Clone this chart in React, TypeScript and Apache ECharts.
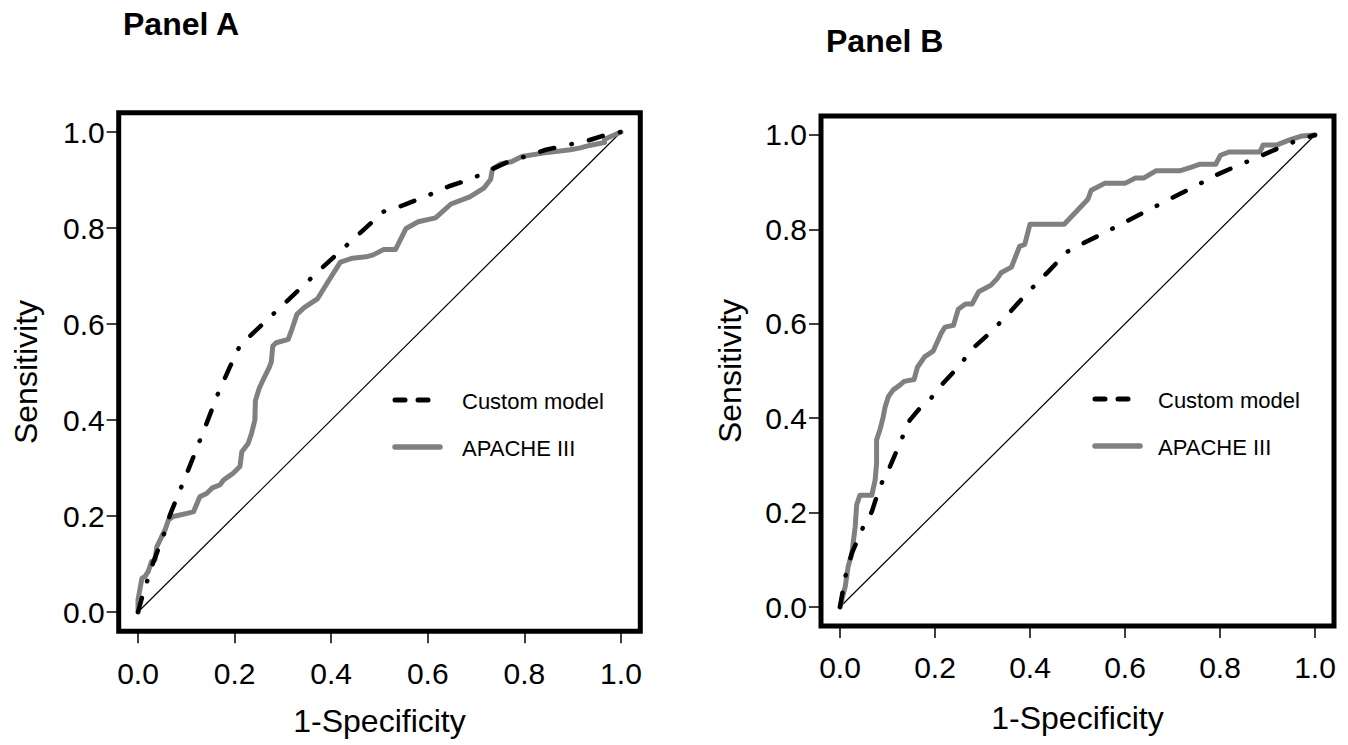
import React, { useEffect, useRef } from "react";
import * as echarts from "echarts";

// ---- Data ----
const TICKS = [0, 0.2, 0.4, 0.6, 0.8, 1.0];

const customA_x = [0, 0.011, 0.032, 0.052, 0.066, 0.104, 0.142, 0.166, 0.19, 0.211, 0.38, 0.508, 0.551, 0.601, 0.644, 0.687, 0.73, 0.766, 0.802, 0.845, 0.88, 0.931, 0.966, 1];
const customA_y = [0, 0.04, 0.105, 0.157, 0.202, 0.296, 0.393, 0.456, 0.51, 0.555, 0.716, 0.834, 0.848, 0.868, 0.887, 0.901, 0.921, 0.938, 0.949, 0.963, 0.971, 0.982, 0.993, 1];

const apacheA_x = [0, 0, 0.008, 0.0145, 0.021, 0.028, 0.035, 0.039, 0.049, 0.056, 0.063, 0.073, 0.087, 0.104, 0.115, 0.128, 0.142, 0.153, 0.17, 0.177, 0.187, 0.197, 0.211, 0.215, 0.228, 0.235, 0.242, 0.243, 0.251, 0.261, 0.272, 0.276, 0.279, 0.286, 0.311, 0.319, 0.329, 0.344, 0.372, 0.394, 0.419, 0.444, 0.472, 0.487, 0.508, 0.533, 0.555, 0.58, 0.616, 0.648, 0.687, 0.716, 0.73, 0.734, 0.752, 0.773, 0.795, 0.838, 0.895, 0.916, 0.931, 0.945, 0.966, 0.966, 1];
const apacheA_y = [0, 0.025, 0.07, 0.074, 0.084, 0.105, 0.108, 0.136, 0.157, 0.171, 0.192, 0.199, 0.202, 0.206, 0.209, 0.24, 0.247, 0.258, 0.265, 0.275, 0.282, 0.289, 0.303, 0.334, 0.351, 0.372, 0.4, 0.44, 0.466, 0.488, 0.51, 0.521, 0.554, 0.561, 0.568, 0.59, 0.62, 0.634, 0.653, 0.689, 0.729, 0.737, 0.74, 0.744, 0.755, 0.755, 0.799, 0.813, 0.821, 0.85, 0.865, 0.883, 0.901, 0.923, 0.934, 0.938, 0.949, 0.956, 0.963, 0.967, 0.971, 0.974, 0.978, 0.985, 1];

const customB_x = [0, 0.011, 0.025, 0.049, 0.067, 0.084, 0.105, 0.126, 0.147, 0.168, 0.189, 0.217, 0.242, 0.285, 0.314, 0.35, 0.393, 0.436, 0.479, 0.515, 0.551, 0.601, 0.644, 0.694, 0.737, 0.794, 0.837, 0.88, 0.923, 0.959, 1];
const customB_y = [0, 0.064, 0.114, 0.17, 0.202, 0.255, 0.297, 0.347, 0.396, 0.421, 0.439, 0.474, 0.501, 0.553, 0.579, 0.616, 0.664, 0.708, 0.753, 0.772, 0.79, 0.816, 0.838, 0.864, 0.886, 0.916, 0.935, 0.953, 0.972, 0.987, 1];

const apacheB_x = [0, 0.011, 0.017, 0.025, 0.032, 0.035, 0.042, 0.067, 0.074, 0.077, 0.077, 0.084, 0.091, 0.095, 0.102, 0.112, 0.126, 0.135, 0.156, 0.163, 0.178, 0.196, 0.214, 0.221, 0.239, 0.249, 0.264, 0.278, 0.292, 0.318, 0.332, 0.339, 0.361, 0.378, 0.389, 0.4, 0.472, 0.522, 0.529, 0.558, 0.601, 0.622, 0.64, 0.665, 0.715, 0.737, 0.758, 0.791, 0.801, 0.819, 0.884, 0.891, 0.92, 0.948, 0.973, 1];
const apacheB_y = [0, 0.043, 0.085, 0.114, 0.17, 0.216, 0.237, 0.237, 0.269, 0.304, 0.354, 0.375, 0.403, 0.424, 0.446, 0.46, 0.47, 0.478, 0.482, 0.508, 0.53, 0.542, 0.582, 0.593, 0.597, 0.631, 0.642, 0.642, 0.668, 0.682, 0.697, 0.708, 0.72, 0.764, 0.768, 0.811, 0.811, 0.864, 0.883, 0.898, 0.898, 0.909, 0.909, 0.924, 0.924, 0.931, 0.938, 0.938, 0.957, 0.964, 0.964, 0.979, 0.979, 0.99, 0.998, 1];

const diag_x = [0, 1];
const diag_y = [0, 1];

const SERIES_NAMES = ["Custom model", "APACHE III"];
const PANEL_TITLES = ["Panel A", "Panel B"];
const X_TITLE = "1-Specificity";
const Y_TITLE = "Sensitivity";

const zip = (xs: number[], ys: number[]) => xs.map((x, i) => [x, ys[i]]);

const FONT = "Liberation Sans, Arial, sans-serif";
const GRAY = "#808080";

export default function App() {
  const ref = useRef<HTMLDivElement>(null);

  useEffect(() => {
    if (!ref.current) return;
    const chart = echarts.init(ref.current, null, { renderer: "svg" });

    const grids = [
      { left: 118.7, top: 112.8, width: 521.6, height: 518.4 },
      { left: 821, top: 116.1, width: 513, height: 509.8 },
    ];

    const tick = { show: true, length: 12, customValues: TICKS, lineStyle: { color: "#000", width: 1.5 } };

    const mkX = (gi: number, gap: number) => ({
      type: "value",
      gridIndex: gi,
      min: -0.04,
      max: 1.04,
      axisLine: { show: false, onZero: false },
      splitLine: { show: false },
      axisTick: tick,
      axisLabel: {
        customValues: TICKS,
        formatter: (v: number) => v.toFixed(1),
        fontSize: 30,
        color: "#000",
        fontFamily: FONT,
        margin: 27,
      },
      name: X_TITLE,
      nameLocation: "middle",
      nameGap: gap,
      nameTextStyle: { fontSize: 32, color: "#000", fontFamily: FONT },
    });
    const mkY = (gi: number, gap: number) => ({
      type: "value",
      gridIndex: gi,
      min: -0.04,
      max: 1.04,
      axisLine: { show: false, onZero: false },
      splitLine: { show: false },
      axisTick: tick,
      axisLabel: {
        customValues: TICKS,
        formatter: (v: number) => v.toFixed(1),
        fontSize: 30,
        color: "#000",
        fontFamily: FONT,
        margin: 14,
      },
      name: Y_TITLE,
      nameLocation: "middle",
      nameGap: gap,
      nameTextStyle: { fontSize: 32, color: "#000", fontFamily: FONT },
    });

    const dashDot = [14.5, 17.5, 0.5, 17.5];

    const mkSeries = (gi: number, cx: number[], cy: number[], ax: number[], ay: number[]) => [
      {
        type: "line",
        xAxisIndex: gi,
        yAxisIndex: gi,
        data: zip(diag_x, diag_y),
        symbol: "none",
        lineStyle: { color: "#000", width: 1.2 },
        silent: true,
      },
      {
        name: SERIES_NAMES[1],
        type: "line",
        xAxisIndex: gi,
        yAxisIndex: gi,
        data: zip(ax, ay),
        symbol: "none",
        lineStyle: { color: GRAY, width: 5, join: "round", cap: "round" },
      },
      {
        name: SERIES_NAMES[0],
        type: "line",
        xAxisIndex: gi,
        yAxisIndex: gi,
        data: zip(cx, cy),
        symbol: "none",
        lineStyle: { color: "#000", width: 4.5, type: dashDot, cap: "round", join: "round" },
      },
    ];

    const legendEls = (x0: number, y1: number, y2: number, tx: number) => [
      { type: "line", shape: { x1: x0, y1: y1, x2: x0 + 10, y2: y1 }, style: { stroke: "#000", lineWidth: 5, lineCap: "round" } },
      { type: "line", shape: { x1: x0 + 23, y1: y1, x2: x0 + 33, y2: y1 }, style: { stroke: "#000", lineWidth: 5, lineCap: "round" } },
      { type: "text", x: tx, y: y1 + 1, style: { text: SERIES_NAMES[0], font: `22px ${FONT}`, fill: "#000", verticalAlign: "middle" } },
      { type: "line", shape: { x1: x0, y1: y2, x2: x0 + 45, y2: y2 }, style: { stroke: GRAY, lineWidth: 5.5, lineCap: "round" } },
      { type: "text", x: tx, y: y2 + 1, style: { text: SERIES_NAMES[1], font: `22px ${FONT}`, fill: "#000", verticalAlign: "middle" } },
    ];

    chart.setOption({
      animation: false,
      backgroundColor: "#fff",
      title: [
        { text: PANEL_TITLES[0], left: 123, top: 8, padding: 0, textStyle: { fontSize: 32, fontWeight: "bold", color: "#000", fontFamily: FONT } },
        { text: PANEL_TITLES[1], left: 826, top: 25, padding: 0, textStyle: { fontSize: 32, fontWeight: "bold", color: "#000", fontFamily: FONT } },
      ],
      grid: grids.map((g) => ({ ...g, show: true, borderColor: "#000", borderWidth: 5, backgroundColor: "transparent", containLabel: false })),
      xAxis: [mkX(0, 74), mkX(1, 76)],
      yAxis: [mkY(0, 77), mkY(1, 75)],
      series: [
        ...mkSeries(0, customA_x, customA_y, apacheA_x, apacheA_y),
        ...mkSeries(1, customB_x, customB_y, apacheB_x, apacheB_y),
      ],
      graphic: [...legendEls(395, 400, 447, 462), ...legendEls(1095, 399, 446, 1158)],
    });

    return () => chart.dispose();
  }, []);

  return <div ref={ref} style={{ position: "fixed", left: 0, top: 0, width: 1348, height: 745 }} />;
}
